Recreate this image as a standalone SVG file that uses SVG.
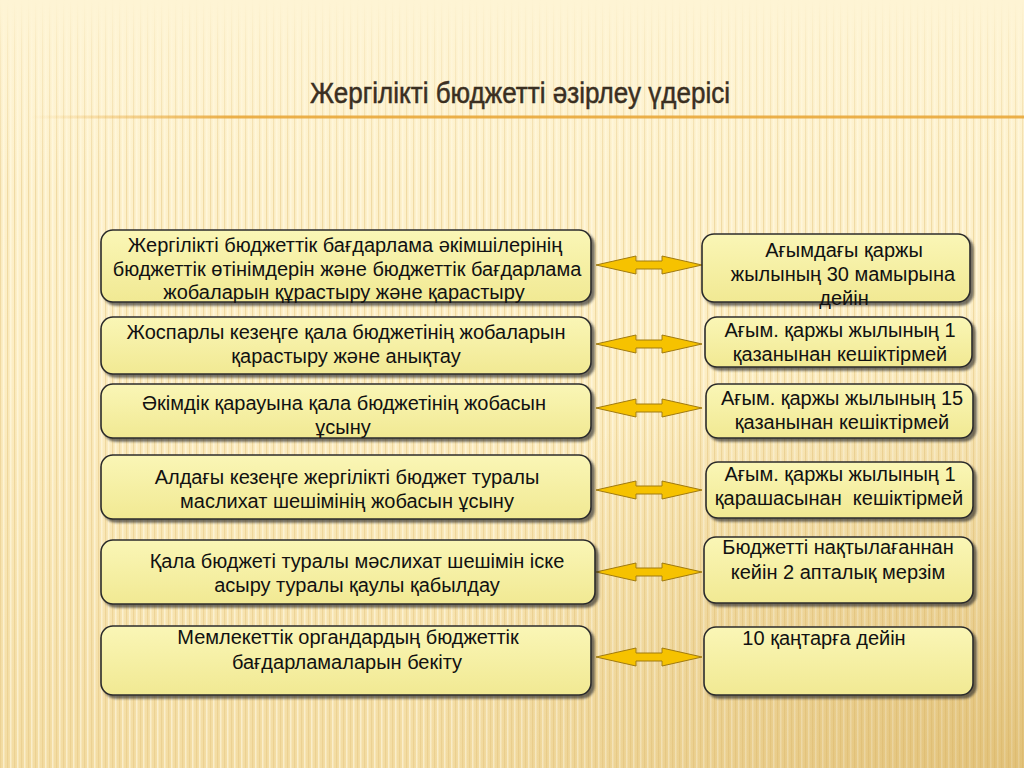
<svg xmlns="http://www.w3.org/2000/svg" width="1024" height="768" viewBox="0 0 1024 768">
<defs>
<linearGradient id="bg" x1="0" y1="0" x2="0" y2="1">
<stop offset="0" stop-color="#FEF4D4"/>
<stop offset="0.5" stop-color="#FCEDC2"/>
<stop offset="1" stop-color="#F3DCA2"/>
</linearGradient>
<radialGradient id="corner" cx="1" cy="1" r="0.6">
<stop offset="0" stop-color="#C89A3C" stop-opacity="0.4"/>
<stop offset="1" stop-color="#C89A3C" stop-opacity="0"/>
</radialGradient>
<pattern id="stripes" width="7" height="20" patternUnits="userSpaceOnUse">
<rect x="0" y="0" width="1.2" height="20" fill="#E6C884"/>
<rect x="3" y="0" width="1.5" height="20" fill="#FFFBEA"/>
</pattern>
<linearGradient id="fadeTop" x1="0" y1="0" x2="0" y2="1">
<stop offset="0" stop-color="#FEF4D4" stop-opacity="1"/>
<stop offset="0.06" stop-color="#FEF4D4" stop-opacity="0.6"/>
<stop offset="0.25" stop-color="#FEF4D4" stop-opacity="0"/>
</linearGradient>
<linearGradient id="rule" x1="0" y1="0" x2="1" y2="0">
<stop offset="0" stop-color="#E9A83A" stop-opacity="0"/>
<stop offset="0.2" stop-color="#E9A83A" stop-opacity="0.9"/>
<stop offset="1" stop-color="#E9A83A" stop-opacity="0.9"/>
</linearGradient>
<linearGradient id="boxfill" x1="0" y1="0" x2="0" y2="1">
<stop offset="0" stop-color="#FAF6B6"/>
<stop offset="1" stop-color="#F1E993"/>
</linearGradient>
<filter id="sh" x="-5%" y="-10%" width="115%" height="130%">
<feDropShadow dx="3" dy="3" stdDeviation="1.2" flood-color="#2a2a2a" flood-opacity="0.65"/>
</filter>
<path id="arr" d="M0,0 L40,-9 L40,-4 L66,-4 L66,-9 L106,0 L66,9 L66,4 L40,4 L40,9 Z"/>
</defs>
<style>
.box{fill:url(#boxfill);stroke:#2b2b2b;stroke-width:1.6;filter:url(#sh)}
.t{font-family:"Liberation Sans",Arial,sans-serif;font-size:20px;fill:#111;text-anchor:middle}
.a{fill:#F6C200;stroke:#A07A10;stroke-width:1}
.title{font-family:"Liberation Sans",Arial,sans-serif;font-size:30px;fill:#3A2F22;stroke:#3A2F22;stroke-width:0.5}
</style>
<rect width="1024" height="768" fill="url(#bg)"/>
<rect width="1024" height="768" fill="url(#stripes)" opacity="0.55"/>
<rect width="1024" height="768" fill="url(#fadeTop)"/>
<rect width="1024" height="768" fill="url(#corner)"/>
<rect x="30" y="115.5" width="994" height="3" fill="url(#rule)"/>
<text class="title" x="310" y="103" textLength="420" lengthAdjust="spacingAndGlyphs">Жергілікті бюджетті әзірлеу үдерісі</text>

<g id="connectors">
<use href="#arr" class="a" transform="translate(596,265)"/>
<use href="#arr" class="a" transform="translate(596,344)"/>
<use href="#arr" class="a" transform="translate(596,408)"/>
<use href="#arr" class="a" transform="translate(596,490)"/>
<use href="#arr" class="a" transform="translate(596,572)"/>
<use href="#arr" class="a" transform="translate(596,657)"/>
</g>

<g id="L1"><rect class="box" x="101" y="230" width="490" height="72" rx="12"/>
<text class="t" x="345" y="252">Жергілікті бюджеттік бағдарлама әкімшілерінің</text>
<text class="t" x="347" y="276">бюджеттік өтінімдерін және бюджеттік бағдарлама</text>
<text class="t" x="344" y="299">жобаларын құрастыру және қарастыру</text></g>

<g id="L2"><rect class="box" x="101" y="317" width="490" height="57" rx="12"/>
<text class="t" x="346" y="339">Жоспарлы кезеңге қала бюджетінің жобаларын</text>
<text class="t" x="346" y="363">қарастыру және анықтау</text></g>

<g id="L3"><rect class="box" x="101" y="384" width="490" height="54" rx="12"/>
<text class="t" x="344" y="410">Әкімдік қарауына қала бюджетінің жобасын</text>
<text class="t" x="343" y="434">ұсыну</text></g>

<g id="L4"><rect class="box" x="101" y="455" width="490" height="64" rx="12"/>
<text class="t" x="347" y="484">Алдағы кезеңге жергілікті бюджет туралы</text>
<text class="t" x="347" y="508">маслихат шешімінің жобасын ұсыну</text></g>

<g id="L5"><rect class="box" x="101" y="540" width="494" height="64" rx="12"/>
<text class="t" x="357" y="568">Қала бюджеті туралы мәслихат шешімін іске</text>
<text class="t" x="357" y="592">асыру туралы қаулы қабылдау</text></g>

<g id="L6"><rect class="box" x="101" y="626" width="490" height="69" rx="12"/>
<text class="t" x="348" y="644">Мемлекеттік органдардың бюджеттік</text>
<text class="t" x="347" y="669">бағдарламаларын бекіту</text></g>

<g id="R1"><rect class="box" x="702" y="234" width="268" height="68" rx="12"/>
<text class="t" x="844" y="257">Ағымдағы қаржы</text>
<text class="t" x="843" y="281">жылының 30 мамырына</text>
<text class="t" x="844" y="305">дейін</text></g>

<g id="R2"><rect class="box" x="705" y="317" width="267" height="50" rx="12"/>
<text class="t" x="840" y="337">Ағым. қаржы жылының 1</text>
<text class="t" x="840" y="361">қазанынан кешіктірмей</text></g>

<g id="R3"><rect class="box" x="706" y="384" width="267" height="54" rx="12"/>
<text class="t" x="842" y="405">Ағым. қаржы жылының 15</text>
<text class="t" x="842" y="429">қазанынан кешіктірмей</text></g>

<g id="R4"><rect class="box" x="706" y="462" width="267" height="56" rx="12"/>
<text class="t" x="840" y="481">Ағым. қаржы жылының 1</text>
<text class="t" x="839" y="505" xml:space="preserve">қарашасынан  кешіктірмей</text></g>

<g id="R5"><rect class="box" x="704" y="537" width="269" height="66" rx="12"/>
<text class="t" x="838" y="554">Бюджетті нақтылағаннан</text>
<text class="t" x="838" y="579">кейін 2 апталық мерзім</text></g>

<g id="R6"><rect class="box" x="704" y="627" width="269" height="68" rx="12"/>
<text class="t" x="824" y="645">10 қаңтарға дейін</text></g>
</svg>
